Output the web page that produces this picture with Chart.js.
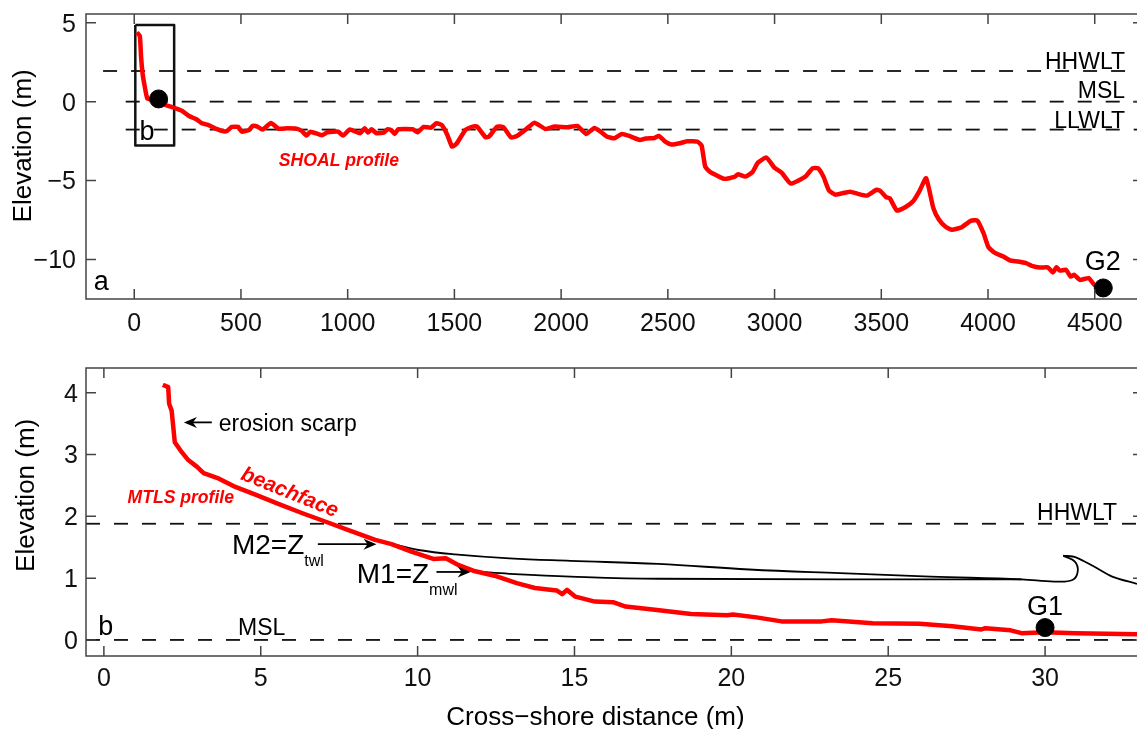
<!DOCTYPE html>
<html>
<head>
<meta charset="utf-8">
<title>Cross-shore profiles</title>
<script src="https://cdn.jsdelivr.net/npm/chart.js@4/dist/chart.umd.min.js"></script>
<style>
  html, body { margin: 0; padding: 0; background: #fff; overflow: hidden; }
  canvas { position: absolute; left: 0; }
</style>
</head>
<body>
<canvas id="chartA" width="1137" height="340" style="top:0"></canvas>
<canvas id="chartB" width="1137" height="389" style="top:340px"></canvas>
<script>
// panel a : SHOAL profile
const shoalX = [12,26,32,39,48,61,87,121,172,223,257,291,317,351,385,419,436,457,487,504,538,555,577,601,641,675,717,760,785,808,825,879,905,956,978,1010,1058,1080,1095,1112,1135,1169,1186,1203,1220,1237,1305,1327,1356,1390,1416,1441,1467,1489,1509,1552,1586,1606,1646,1663,1700,1730,1765,1790,1832,1875,1926,1969,2030,2076,2117,2156,2185,2216,2250,2284,2319,2369,2395,2438,2458,2488,2517,2556,2590,2638,2658,2675,2696,2764,2812,2829,2863,2897,2922,2962,2999,3033,3076,3144,3178,3204,3229,3255,3285,3354,3391,3433,3476,3493,3523,3540,3573,3612,3649,3680,3710,3744,3769,3800,3831,3877,3919,3950,3979,4002,4030,4072,4103,4141,4178,4205,4243,4280,4304,4321,4336,4365,4387,4404,4430,4472,4498,4540];
const shoalY = [4.39,4.16,2.85,1.79,1.05,0.21,0.1,-0.1,-0.32,-0.57,-0.91,-1.12,-1.37,-1.5,-1.73,-1.88,-1.84,-1.6,-1.6,-1.9,-1.79,-1.54,-1.58,-1.77,-1.35,-1.71,-1.69,-1.71,-1.86,-2.15,-1.9,-2.13,-1.94,-1.9,-2.15,-1.77,-2,-1.69,-1.96,-1.75,-2,-1.96,-1.75,-1.79,-2.05,-1.75,-1.75,-1.94,-1.6,-1.65,-1.37,-1.48,-2.11,-2.85,-2.68,-1.79,-1.58,-1.58,-2.26,-2.2,-1.58,-1.62,-2.26,-2.2,-1.79,-1.33,-1.73,-1.58,-1.62,-1.54,-2.05,-1.67,-1.9,-2.22,-2.32,-2.05,-2.17,-2.43,-2.34,-2.3,-2.17,-2.53,-2.72,-2.64,-2.51,-2.53,-2.78,-4.11,-4.43,-4.89,-4.77,-4.6,-4.75,-4.45,-3.86,-3.54,-4.18,-4.49,-5.19,-4.75,-4.22,-4.22,-4.75,-5.63,-5.89,-5.7,-5.84,-5.95,-5.59,-5.63,-6.05,-6.12,-6.9,-6.69,-6.31,-5.63,-4.85,-6.75,-7.45,-7.91,-8.12,-7.95,-7.55,-7.53,-8.33,-9.22,-9.56,-9.81,-10.06,-10.13,-10.23,-10.4,-10.51,-10.49,-10.82,-10.49,-10.7,-10.65,-11.08,-10.97,-11.29,-11.18,-11.6,-11.75];
const boxX = [5, 187, 187, 5, 5];
const boxY = [4.85, 4.85, -2.78, -2.78, 4.85];
const gaugeAX = [114, 4540];
const gaugeAY = [0.17, -11.8];
const aTicksX = [0,500,1000,1500,2000,2500,3000,3500,4000,4500];
const aTicksY = [-10,-5,0,5];

// panel b : MTLS profile
const mtlsX = [1.88,2.05,2.08,2.16,2.26,2.45,2.69,2.97,3.18,3.67,4.13,4.83,5.52,6.33,7.14,7.84,8.65,9.17,9.8,10.5,10.9,11.31,11.77,12.52,13.16,13.74,14.43,14.61,14.76,15.03,15.65,16.23,16.63,17.56,18.72,19.87,20.05,20.8,21.6,22.88,23.2,24.5,26,27.05,27.97,28.1,28.9,29.25,30,30.98,32.93];
const mtlsY = [4.13,4.09,3.82,3.71,3.2,3.06,2.91,2.8,2.7,2.61,2.49,2.35,2.21,2.05,1.9,1.77,1.62,1.55,1.43,1.31,1.32,1.21,1.12,1.03,0.92,0.84,0.8,0.74,0.81,0.7,0.62,0.61,0.54,0.49,0.42,0.4,0.41,0.365,0.3,0.3,0.32,0.27,0.26,0.22,0.17,0.19,0.155,0.11,0.125,0.11,0.09];
const m2X = [9.22,10.03,11.19,12.93,14.87,17.67,20.57,23.46,26.35,29.25,30.29,30.87,31.04,30.95,30.58];
const m2Y = [1.55,1.455,1.385,1.32,1.28,1.23,1.14,1.08,1.025,0.98,0.945,0.97,1.106,1.267,1.364];
const m1X = [11.89,12.93,14.87,17.67,29.25];
const m1Y = [1.105,1.07,1.025,0.99,0.98];
const crestX = [30.58,30.98,31.56,32.14,32.93];
const crestY = [1.364,1.337,1.187,1.025,0.907];
const bTicksX = [0,5,10,15,20,25,30];
const bTicksY = [0,1,2,3,4];

function pts(xs, ys) {
    return xs.map((x, i) => ({ x: x, y: ys[i] }));
}

function dashed(x0, x1, y) {
    return { data: [{ x: x0, y: y }, { x: x1, y: y }], showLine: true, borderColor: '#111', borderWidth: 1.8, borderDash: [14, 14], pointRadius: 0 };
}

function noPadding(s) {
    s.paddingTop = s.paddingBottom = s.paddingLeft = s.paddingRight = 0;
}

// inward ticks, spines, and all the free text of a panel
const frame = {
    id: 'frame',
    afterDraw(chart, args, opts) {
        const c = chart.ctx, a = chart.chartArea;
        const sx = chart.scales.x, sy = chart.scales.y;
        c.save();
        c.strokeStyle = '#444';
        c.lineWidth = 1.5;
        c.beginPath();
        c.moveTo(a.right, a.top); c.lineTo(a.left, a.top); c.lineTo(a.left, a.bottom); c.lineTo(a.right, a.bottom);
        sx.ticks.forEach(t => {
            const p = sx.getPixelForValue(t.value);
            c.moveTo(p, a.bottom); c.lineTo(p, a.bottom - 10);
            c.moveTo(p, a.top); c.lineTo(p, a.top + 10);
        });
        sy.ticks.forEach(t => {
            const p = sy.getPixelForValue(t.value);
            c.moveTo(a.left, p); c.lineTo(a.left + 10, p);
            c.moveTo(a.right, p); c.lineTo(a.right - 4, p);
        });
        c.stroke();

        opts.arrows.forEach(r => {
            const x0 = sx.getPixelForValue(r[0]), x1 = sx.getPixelForValue(r[1]), y = sy.getPixelForValue(r[2]);
            const d = x1 > x0 ? 1 : -1;
            c.strokeStyle = '#000';
            c.lineWidth = 1.8;
            c.beginPath(); c.moveTo(x0, y); c.lineTo(x1 - d * 4, y); c.stroke();
            c.fillStyle = '#000';
            c.beginPath(); c.moveTo(x1, y); c.lineTo(x1 - d * 13, y - 5.5); c.lineTo(x1 - d * 9, y); c.lineTo(x1 - d * 13, y + 5.5); c.closePath(); c.fill();
        });

        opts.labels.forEach(l => {
            const x = sx.getPixelForValue(l.x), y = sy.getPixelForValue(l.y);
            c.save();
            c.translate(x, y);
            if (l.rot) c.rotate(l.rot * Math.PI / 180);
            c.font = (l.style || '') + ' ' + l.size + 'px "Liberation Sans"';
            c.fillStyle = l.color || '#000';
            c.textAlign = l.align || 'center';
            c.textBaseline = 'middle';
            c.fillText(l.text, 0, 0);
            if (l.sub) {
                const w = c.measureText(l.text).width;
                c.font = '16px "Liberation Sans"';
                c.textAlign = 'left';
                c.fillText(l.sub, w, 15);
            }
            c.restore();
        });
        c.restore();
    }
};

function options(xr, yr, xt, yt, top, xh, pad, labels, arrows) {
    const tickFont = { family: '"Liberation Sans"', size: 25 };
    return {
        responsive: false,
        animation: false,
        devicePixelRatio: 1,
        layout: { autoPadding: false, padding: { top: top, left: 0, right: 0, bottom: 0 } },
        plugins: {
            legend: { display: false },
            tooltip: { enabled: false },
            frame: { labels: labels, arrows: arrows }
        },
        elements: { line: { tension: 0, borderJoinStyle: 'round' }, point: { radius: 0 } },
        scales: {
            x: {
                type: 'linear', min: xr[0], max: xr[1],
                afterBuildTicks: s => { s.ticks = xt.map(v => ({ value: v })); },
                afterFit: s => { s.height = xh; noPadding(s); },
                grid: { display: false }, border: { display: false },
                ticks: { font: tickFont, color: '#111', padding: pad, maxRotation: 0, autoSkip: false, callback: v => String(v) }
            },
            y: {
                type: 'linear', min: yr[0], max: yr[1],
                afterBuildTicks: s => { s.ticks = yt.map(v => ({ value: v })); },
                afterFit: s => { s.width = 86; noPadding(s); },
                grid: { display: false }, border: { display: false },
                ticks: { font: tickFont, color: '#111', padding: pad, labelOffset: 2, autoSkip: false, callback: v => String(v).replace('-', '\u2212') }
            }
        }
    };
}

const labelsA = [
    { text: 'Elevation (m)', x: -517, y: -2.8, size: 26, rot: -90 },
    { text: 'a', x: -155, y: -11.45, size: 27 },
    { text: 'b', x: 60, y: -1.95, size: 27 },
    { text: 'SHOAL profile', x: 959, y: -3.74, size: 17.6, style: 'italic bold', color: '#f00' },
    { text: 'HHWLT', x: 4642, y: 2.5, size: 23, align: 'right' },
    { text: 'MSL', x: 4642, y: 0.62, size: 23, align: 'right' },
    { text: 'LLWLT', x: 4642, y: -1.28, size: 23, align: 'right' },
    { text: 'G2', x: 4538, y: -10.2, size: 27 }
];

const labelsB = [
    { text: 'Elevation (m)', x: -2.45, y: 2.34, size: 26, rot: -90 },
    { text: 'Cross\u2212shore distance (m)', x: 15.67, y: -1.26, size: 26 },
    { text: 'erosion scarp', x: 3.66, y: 3.48, size: 23, align: 'left' },
    { text: 'MTLS profile', x: 2.45, y: 2.3, size: 17.6, style: 'italic bold', color: '#f00' },
    { text: 'beachface', x: 5.92, y: 2.38, size: 21, style: 'italic bold', color: '#f00', rot: 22 },
    { text: 'M2=Z', x: 4.08, y: 1.51, size: 28, align: 'left', sub: 'twl' },
    { text: 'M1=Z', x: 8.06, y: 1.04, size: 28, align: 'left', sub: 'mwl' },
    { text: 'b', x: 0.06, y: 0.2, size: 27 },
    { text: 'MSL', x: 5.03, y: 0.19, size: 23 },
    { text: 'HHWLT', x: 31.02, y: 2.04, size: 23 },
    { text: 'G1', x: 30, y: 0.52, size: 27 }
];

const arrowsB = [[3.44, 2.55, 3.52], [6.82, 8.69, 1.55], [10.6, 11.69, 1.1]];

new Chart(document.getElementById('chartA'), {
    type: 'scatter',
    plugins: [frame],
    data: {
        datasets: [
            { data: pts(gaugeAX, gaugeAY), backgroundColor: '#000', borderColor: '#000', pointRadius: 9 },
            { data: pts(shoalX, shoalY), showLine: true, borderColor: '#f00', borderWidth: 4.5, tension: 0.15 },
            { data: pts(boxX, boxY), showLine: true, borderColor: '#111', borderWidth: 2.5 },
            dashed(-146, 4700, 1.94),
            dashed(-40, 4700, 0),
            dashed(-40, 4700, -1.77)
        ]
    },
    options: options([-226, 4698], [-12.5, 5.55], aTicksX, aTicksY, 14, 41, 2, labelsA, [])
});

new Chart(document.getElementById('chartB'), {
    type: 'scatter',
    plugins: [frame],
    data: {
        datasets: [
            { data: [{ x: 30, y: 0.2 }], backgroundColor: '#000', borderColor: '#000', pointRadius: 9 },
            { data: pts(mtlsX, mtlsY), showLine: true, borderColor: '#f00', borderWidth: 4.5 },
            { data: pts(m2X, m2Y), showLine: true, borderColor: '#000', borderWidth: 1.8, tension: 0.4 },
            { data: pts(m1X, m1Y), showLine: true, borderColor: '#000', borderWidth: 1.8, tension: 0.4 },
            { data: pts(crestX, crestY), showLine: true, borderColor: '#000', borderWidth: 1.8, tension: 0.3 },
            dashed(-0.57, 32.93, 1.88),
            dashed(-0.57, 32.93, 0)
        ]
    },
    options: options([-0.57, 32.93], [-0.26, 4.4], bTicksX, bTicksY, 28, 73, 0, labelsB, arrowsB)
});
</script>
</body>
</html>
